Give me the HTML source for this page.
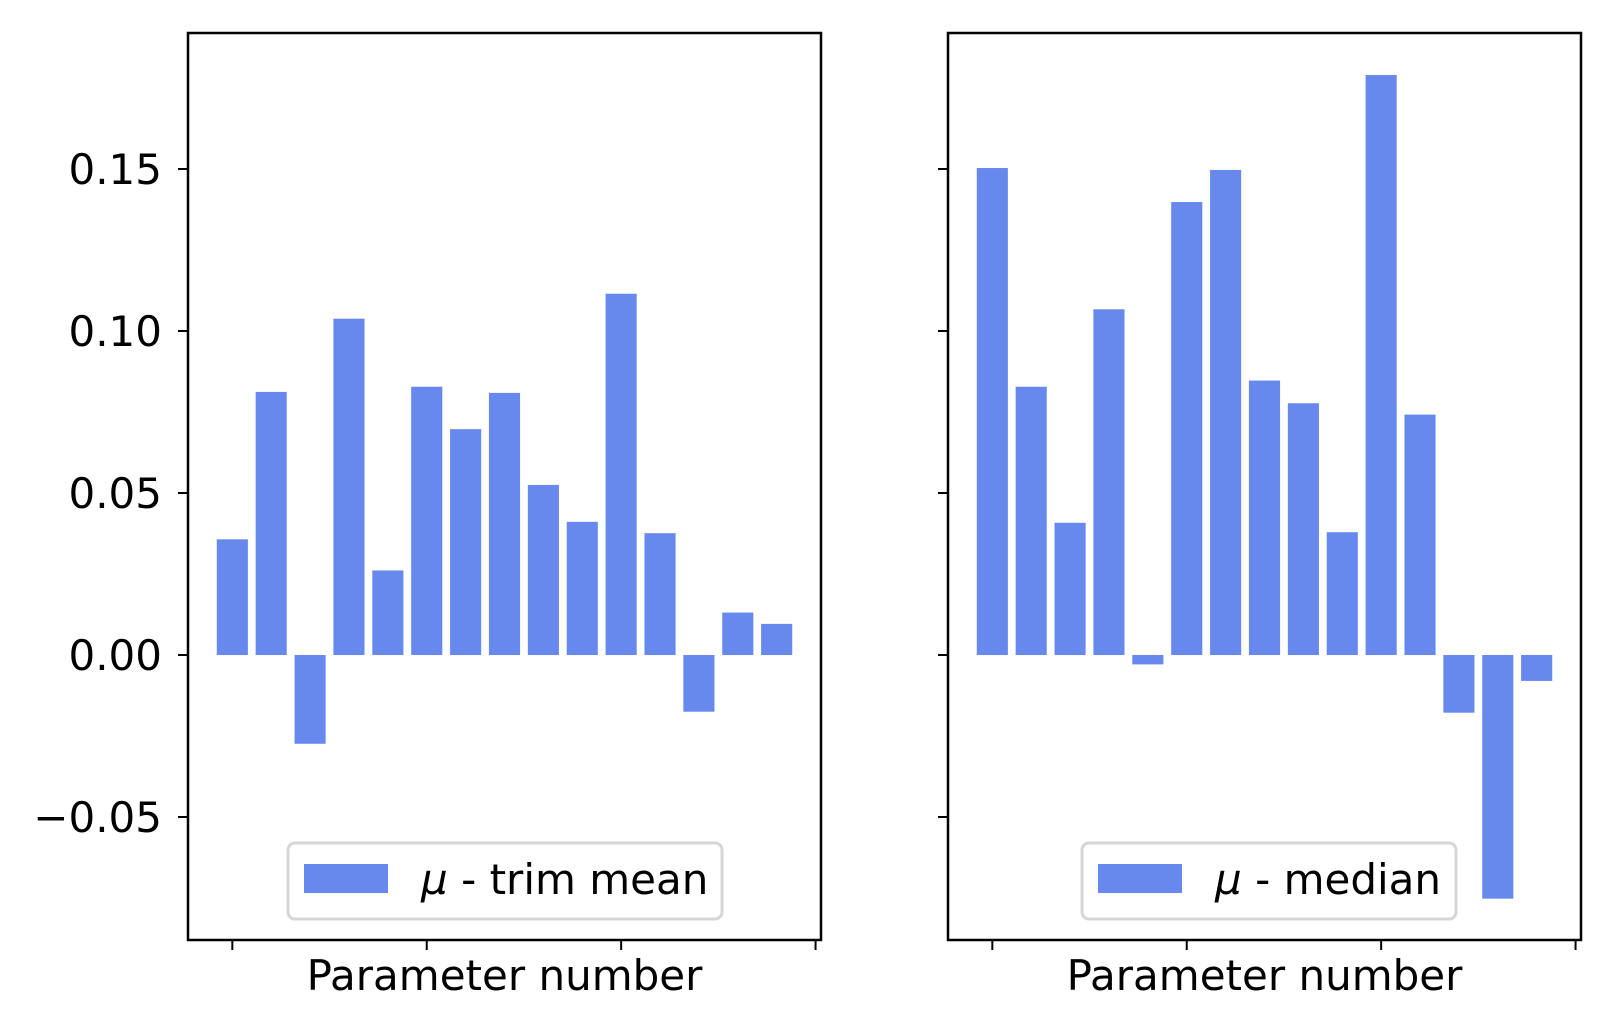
<!DOCTYPE html>
<html><head><meta charset="utf-8"><style>
html,body{margin:0;padding:0;background:#fff}
svg{display:block}
text{font-family:"DejaVu Sans","Liberation Sans",sans-serif;fill:#000}
</style></head><body>
<svg id="chart" width="1615" height="1026" viewBox="0 0 1615 1026" xmlns="http://www.w3.org/2000/svg"></svg>
<script>
const categories = [0,1,2,3,4,5,6,7,8,9,10,11,12,13,14];
const trimMean = [0.0357,0.0812,-0.0274,0.1038,0.0261,0.0828,0.0697,0.0809,0.0525,0.0411,0.1115,0.0376,-0.0175,0.0131,0.0096];
const median = [0.1503,0.0828,0.0408,0.1067,-0.0029,0.1398,0.1497,0.0847,0.0777,0.0379,0.179,0.0742,-0.0178,-0.0752,-0.008];
const yTicks = [-0.05,0,0.05,0.10,0.15];
const yTickLabels = ["\u22120.05","0.00","0.05","0.10","0.15"];
const xTicks = [0,5,10,15];
const legendLabels = ["trim mean","median"];

const NS="http://www.w3.org/2000/svg";
const svg=document.getElementById('chart');
function mk(tag,attrs,parent){const e=document.createElementNS(NS,tag);for(const k in attrs)e.setAttribute(k,attrs[k]);(parent||svg).appendChild(e);return e;}
const plotTop=33,plotBottom=940;
function yScale(v){return 655+(0-v)*(162/0.05);}
const xMin=-1.14,xMax=15.14;
const panels=[{x0:188,x1:821,data:trimMean,label:legendLabels[0],lx:288,lw:434,showY:true},
              {x0:948,x1:1581,data:median,label:legendLabels[1],lx:1082,lw:374,showY:false}];
panels.forEach((p,pi)=>{
  const g=mk('g',{});
  
  
  const xs=v=>p.x0+(v-xMin)/(xMax-xMin)*(p.x1-p.x0);
  const bw=(xs(0.8)-xs(0));
  categories.forEach((c,i)=>{
    const v=p.data[i];
    const y0=yScale(0),y1=yScale(v);
    const r=mk('rect',{x:xs(c)-bw/2,y:Math.min(y0,y1),width:bw,height:Math.abs(y1-y0),fill:'#6789ed'},g);
    
    
  });
  const fr=mk('rect',{x:p.x0,y:plotTop,width:p.x1-p.x0,height:plotBottom-plotTop,fill:'none',stroke:'#000','stroke-width':2.5},g);
  
  
  yTicks.forEach((t,i)=>{
    const y=yScale(t);
    const l=mk('line',{x1:p.x0-10,x2:p.x0,y1:y,y2:y,stroke:'#000','stroke-width':2},g);
    
    
    if(p.showY){
      const tx=mk('text',{x:p.x0-26,y:y+15,'text-anchor':'end','font-size':42},g);
      tx.textContent=yTickLabels[i];
      
      
    }
  });
  xTicks.forEach(t=>{
    const x=xs(t);
    const l=mk('line',{x1:x,x2:x,y1:plotBottom,y2:plotBottom+10,stroke:'#000','stroke-width':2},g);
    
    
  });
  const xl=mk('text',{x:(p.x0+p.x1)/2,y:990,'text-anchor':'middle','font-size':42},g);
  xl.textContent='Parameter number';
  
  
  const lg=mk('g',{},g);
  
  
  mk('rect',{x:p.lx,y:843,width:p.lw,height:76,rx:7,fill:'#fff',stroke:'#d6d6d6','stroke-width':3},lg);
  const pt=mk('rect',{x:p.lx+16,y:864,width:84,height:29,fill:'#6789ed'},lg);
  
  
  const lt=mk('text',{x:p.lx+133,y:894,'font-size':42},lg);
  const mu=mk('tspan',{'font-style':'italic'},lt);
  mu.textContent='\u03bc';
  const rest=mk('tspan',{},lt);
  rest.textContent=' - '+p.label;
  
  
});
</script>
</body></html>
